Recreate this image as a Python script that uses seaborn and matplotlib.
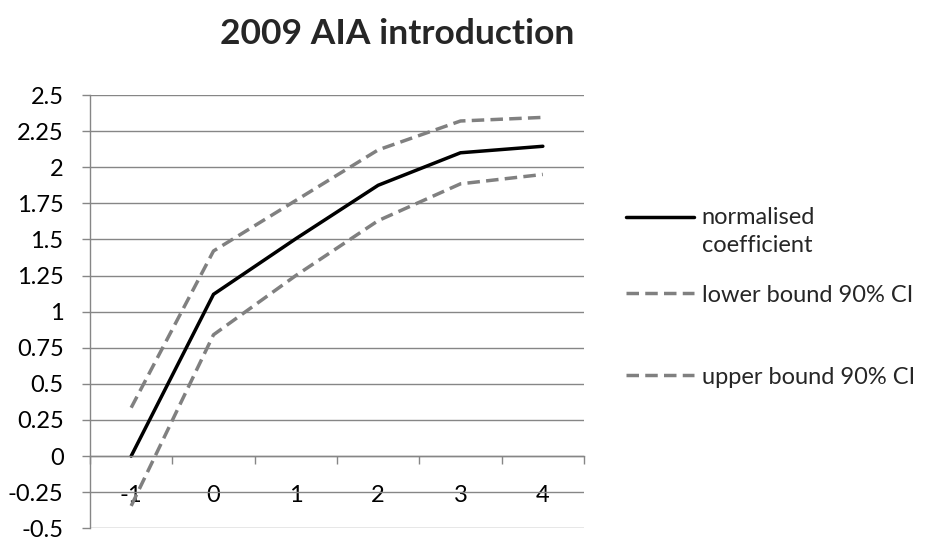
import matplotlib
matplotlib.use("Agg")
import matplotlib.pyplot as plt
import seaborn as sns
import pandas as pd

# Event-time categories and estimates
periods = ["-1", "0", "1", "2", "3", "4"]
coefficient = [0.0, 1.12, 1.505, 1.875, 2.10, 2.145]
lower_ci = [-0.345, 0.84, 1.25, 1.63, 1.885, 1.95]
upper_ci = [0.335, 1.42, 1.77, 2.12, 2.32, 2.345]

series_names = ["normalised\ncoefficient", "lower bound 90% CI", "upper bound 90% CI"]
y_ticks = [-0.5, -0.25, 0, 0.25, 0.5, 0.75, 1, 1.25, 1.5, 1.75, 2, 2.25, 2.5]

rows = []
for name, values in zip(series_names, [coefficient, lower_ci, upper_ci]):
    for i, (p, v) in enumerate(zip(periods, values)):
        rows.append({"pos": i, "period": p, "value": v, "series": name})
df = pd.DataFrame(rows)

sns.set_theme(style="white")
plt.rcParams["font.family"] = ["Lato", "DejaVu Sans"]

GRID = "#868686"
DASH = "#808080"
FS = 17

fig = plt.figure(figsize=(9.25, 5.39), dpi=100)
ax = fig.add_axes([90 / 925, 1 - 528.3 / 539, (584 - 90) / 925, (528.3 - 95) / 539])

sns.lineplot(
    data=df, x="pos", y="value", hue="series", style="series",
    hue_order=series_names, style_order=series_names,
    palette={series_names[0]: "black", series_names[1]: DASH, series_names[2]: DASH},
    dashes={series_names[0]: "", series_names[1]: (3.6, 1.8), series_names[2]: (3.6, 1.8)},
    linewidth=2.5, legend=False, ax=ax,
)
for ln in ax.get_lines():
    ln.set_solid_capstyle("round")
    ln.set_solid_joinstyle("miter")

ax.set_xlim(-0.5, len(periods) - 0.5)
ax.set_ylim(-0.5, 2.5)
ax.set_yticks(y_ticks)
ax.set_yticklabels([f"{t:g}" for t in y_ticks])
ax.set_xticks(range(len(periods)))
ax.set_xticklabels(periods)
ax.set_xticks([i - 0.5 for i in range(len(periods) + 1)], minor=True)
ax.set_xlabel("")
ax.set_ylabel("")

ax.grid(axis="y", color=GRID, linewidth=1.0)
ax.set_axisbelow(True)
for side in ["top", "right"]:
    ax.spines[side].set_visible(False)
ax.spines["left"].set_color(GRID)
ax.spines["bottom"].set_color(GRID)
ax.spines["left"].set_linewidth(1.0)
ax.spines["bottom"].set_linewidth(1.0)
ax.spines["bottom"].set_position(("data", 0))

ax.tick_params(axis="y", which="both", direction="out", length=6, width=1.0,
               color=GRID, labelsize=FS, labelcolor="black", pad=13, left=True)
ax.tick_params(axis="x", which="major", length=0, labelsize=FS,
               labelcolor="black", pad=21)
ax.tick_params(axis="x", which="minor", direction="out", length=6, width=1.0,
               color=GRID, bottom=True)

fig.suptitle("2009 AIA introduction", x=397 / 925, y=1 - 18 / 539, va="top",
             fontsize=25.5, fontweight="bold")

# Legend entries at the right of the plot
lines = ax.get_lines()
entry_y = [231.5, 295, 377]
for k, (ln, name, yc) in enumerate(zip(lines, series_names, entry_y)):
    leg = fig.legend([ln], [name], loc="center left",
                     bbox_to_anchor=(626 / 925, 1 - yc / 539),
                     frameon=False, fontsize=FS, handlelength=2.9,
                     handletextpad=0.3, borderpad=0, borderaxespad=0,
                     handleheight=1.3 if k == 0 else 0.7)
    for txt in leg.get_texts():
        txt.set_linespacing(1.45)
    if k == 0:
        # keep the line sample beside the first line of the two-line label
        for col in leg._legend_handle_box.get_children():
            for item in col.get_children():
                item.align = "top"

fig.savefig("out.png", dpi=100, facecolor="white")
